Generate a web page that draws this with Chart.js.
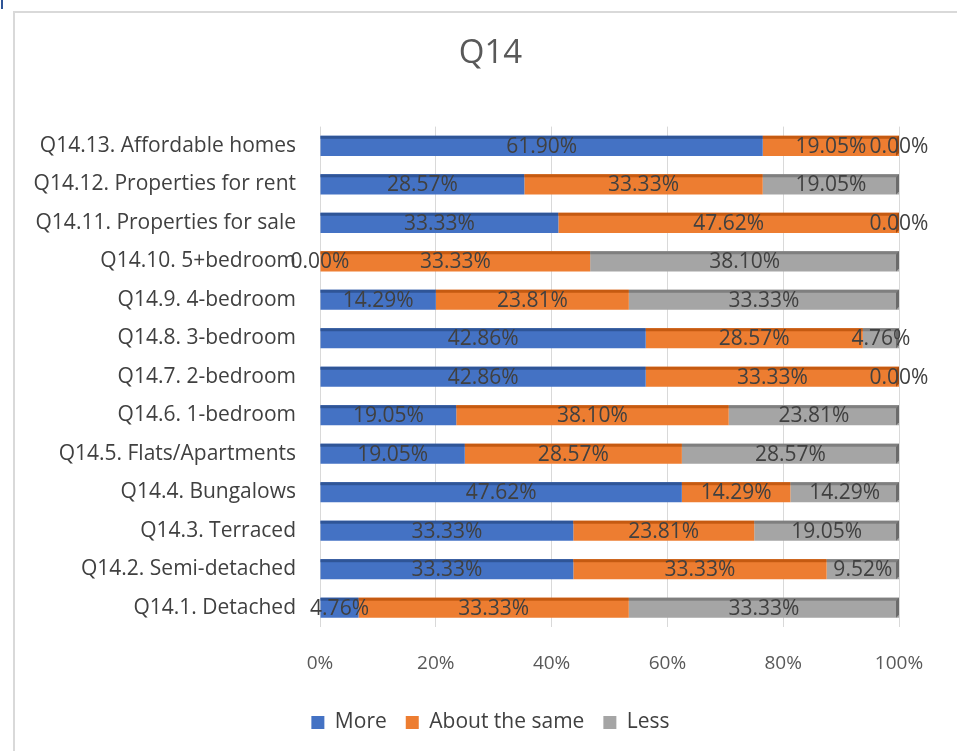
<!DOCTYPE html>
<html><head><meta charset="utf-8">
<script src="https://cdn.jsdelivr.net/npm/chart.js@4.4.0/dist/chart.umd.min.js"></script>
<style>
html,body{margin:0;padding:0;background:#fff;overflow:hidden;}
#frame{position:absolute;left:13px;top:11px;width:1000px;height:800px;border:2px solid #d9d9d9;}
#mark{position:absolute;left:1px;top:0;width:2px;height:9px;background:#2f5597;}
#wrap{position:absolute;left:0;top:0;width:957px;height:751px;}
</style></head><body>
<div id="frame"></div><div id="mark"></div>
<div id="wrap"><canvas id="c" width="957" height="751"></canvas></div>
<script>
const categories = [
  "Q14.13. Affordable homes","Q14.12. Properties for rent","Q14.11. Properties for sale",
  "Q14.10. 5+bedroom","Q14.9. 4-bedroom","Q14.8. 3-bedroom","Q14.7. 2-bedroom",
  "Q14.6. 1-bedroom","Q14.5. Flats/Apartments","Q14.4. Bungalows","Q14.3. Terraced",
  "Q14.2. Semi-detached","Q14.1. Detached"
];
const moreValues = [61.90,28.57,33.33,0.00,14.29,42.86,42.86,19.05,19.05,47.62,33.33,33.33,4.76];
const sameValues = [19.05,33.33,47.62,33.33,23.81,28.57,33.33,38.10,28.57,14.29,23.81,33.33,33.33];
const lessValues = [0.00,19.05,0.00,38.10,33.33,4.76,0.00,23.81,28.57,14.29,19.05,9.52,33.33];
const seriesNames = ["More","About the same","Less"];
const xTickValues = [0,20,40,60,80,100];

const rawSeries = [moreValues, sameValues, lessValues];
const totals = categories.map((_, i) => moreValues[i] + sameValues[i] + lessValues[i]);
const toPct = arr => arr.map((v, i) => totals[i] ? v / totals[i] * 100 : 0);

const colors = ["#4472C4","#ED7D31","#A5A5A5"];
const topColors = ["#2F5597","#C55A11","#7F7F7F"];
const capColors = ["#2F5597","#A0490E","#6B6B6B"];

const FONT = "'Open Sans', sans-serif";

const threeD = {
  id: 'threeD',
  afterDatasetsDraw(chart) {
    const ctx = chart.ctx;
    ctx.save();
    chart.data.datasets.forEach((ds, di) => {
      const meta = chart.getDatasetMeta(di);
      meta.data.forEach((el) => {
        const left = Math.min(el.x, el.base), w = Math.abs(el.x - el.base);
        if (w <= 0) return;
        const top = el.y - el.height / 2;
        ctx.fillStyle = topColors[di];
        ctx.fillRect(left, top, w, 3);
      });
    });
    const n = chart.data.labels.length;
    for (let i = 0; i < n; i++) {
      let last = -1;
      for (let di = 0; di < chart.data.datasets.length; di++) {
        if (rawSeries[di][i] > 0) last = di;
      }
      if (last < 0) continue;
      const el = chart.getDatasetMeta(last).data[i];
      const top = el.y - el.height / 2;
      ctx.fillStyle = capColors[last];
      ctx.beginPath();
      ctx.moveTo(el.x - 3, top + 3);
      ctx.lineTo(el.x, top);
      ctx.lineTo(el.x, top + el.height - 3);
      ctx.lineTo(el.x - 3, top + el.height);
      ctx.closePath();
      ctx.fill();
    }
    ctx.restore();
  }
};

const dataLabels = {
  id: 'dataLabels',
  afterDatasetsDraw(chart) {
    const ctx = chart.ctx;
    ctx.save();
    ctx.font = "21px " + FONT;
    ctx.fillStyle = "#404040";
    ctx.textAlign = "center";
    ctx.textBaseline = "middle";
    chart.data.datasets.forEach((ds, di) => {
      const meta = chart.getDatasetMeta(di);
      meta.data.forEach((el, i) => {
        const cx = (el.x + el.base) / 2;
        ctx.fillText(rawSeries[di][i].toFixed(2) + "%", cx, el.y + 1);
      });
    });
    ctx.restore();
  }
};

new Chart(document.getElementById('c'), {
  type: 'bar',
  data: {
    labels: categories,
    datasets: rawSeries.map((arr, di) => ({
      label: seriesNames[di],
      data: toPct(arr),
      backgroundColor: colors[di],
      borderWidth: 0,
      barPercentage: 0.95,
      categoryPercentage: 0.55
    }))
  },
  options: {
    indexAxis: 'y',
    responsive: false,
    animation: false,
    devicePixelRatio: 1,
    layout: { padding: { top: 0, left: 24, right: 0, bottom: 8 } },
    scales: {
      x: {
        stacked: true, min: 0, max: 100,
        afterBuildTicks(scale) { scale.ticks = xTickValues.map(v => ({ value: v })); },
        ticks: { callback: v => v + "%", color: "#595959", font: { family: FONT, size: 19 }, padding: 25 },
        grid: { color: "#d9d9d9", lineWidth: 1, drawTicks: false },
        border: { display: false },
        afterFit(scale) { scale.height = 66; }
      },
      y: {
        stacked: true,
        ticks: { color: "#404040", font: { family: FONT, size: 21 }, padding: 24, autoSkip: false },
        grid: { display: false, drawTicks: false },
        border: { display: false },
        afterFit(scale) { scale.width = 296; }
      },
      y2: {
        type: 'category',
        position: 'right',
        ticks: { display: false },
        grid: { display: false, drawTicks: false },
        border: { display: false },
        afterFit(scale) { scale.width = 58; }
      }
    },
    plugins: {
      title: {
        display: true, text: "Q14", color: "#595959",
        font: { family: FONT, size: 33, weight: 'normal' },
        padding: { top: 34, bottom: 53 }
      },
      legend: {
        position: 'bottom',
        labels: { color: "#404040", font: { family: FONT, size: 21 }, boxWidth: 13, boxHeight: 13, padding: 19 }
      },
      tooltip: { enabled: false }
    }
  },
  plugins: [threeD, dataLabels]
});
</script>
</body></html>
